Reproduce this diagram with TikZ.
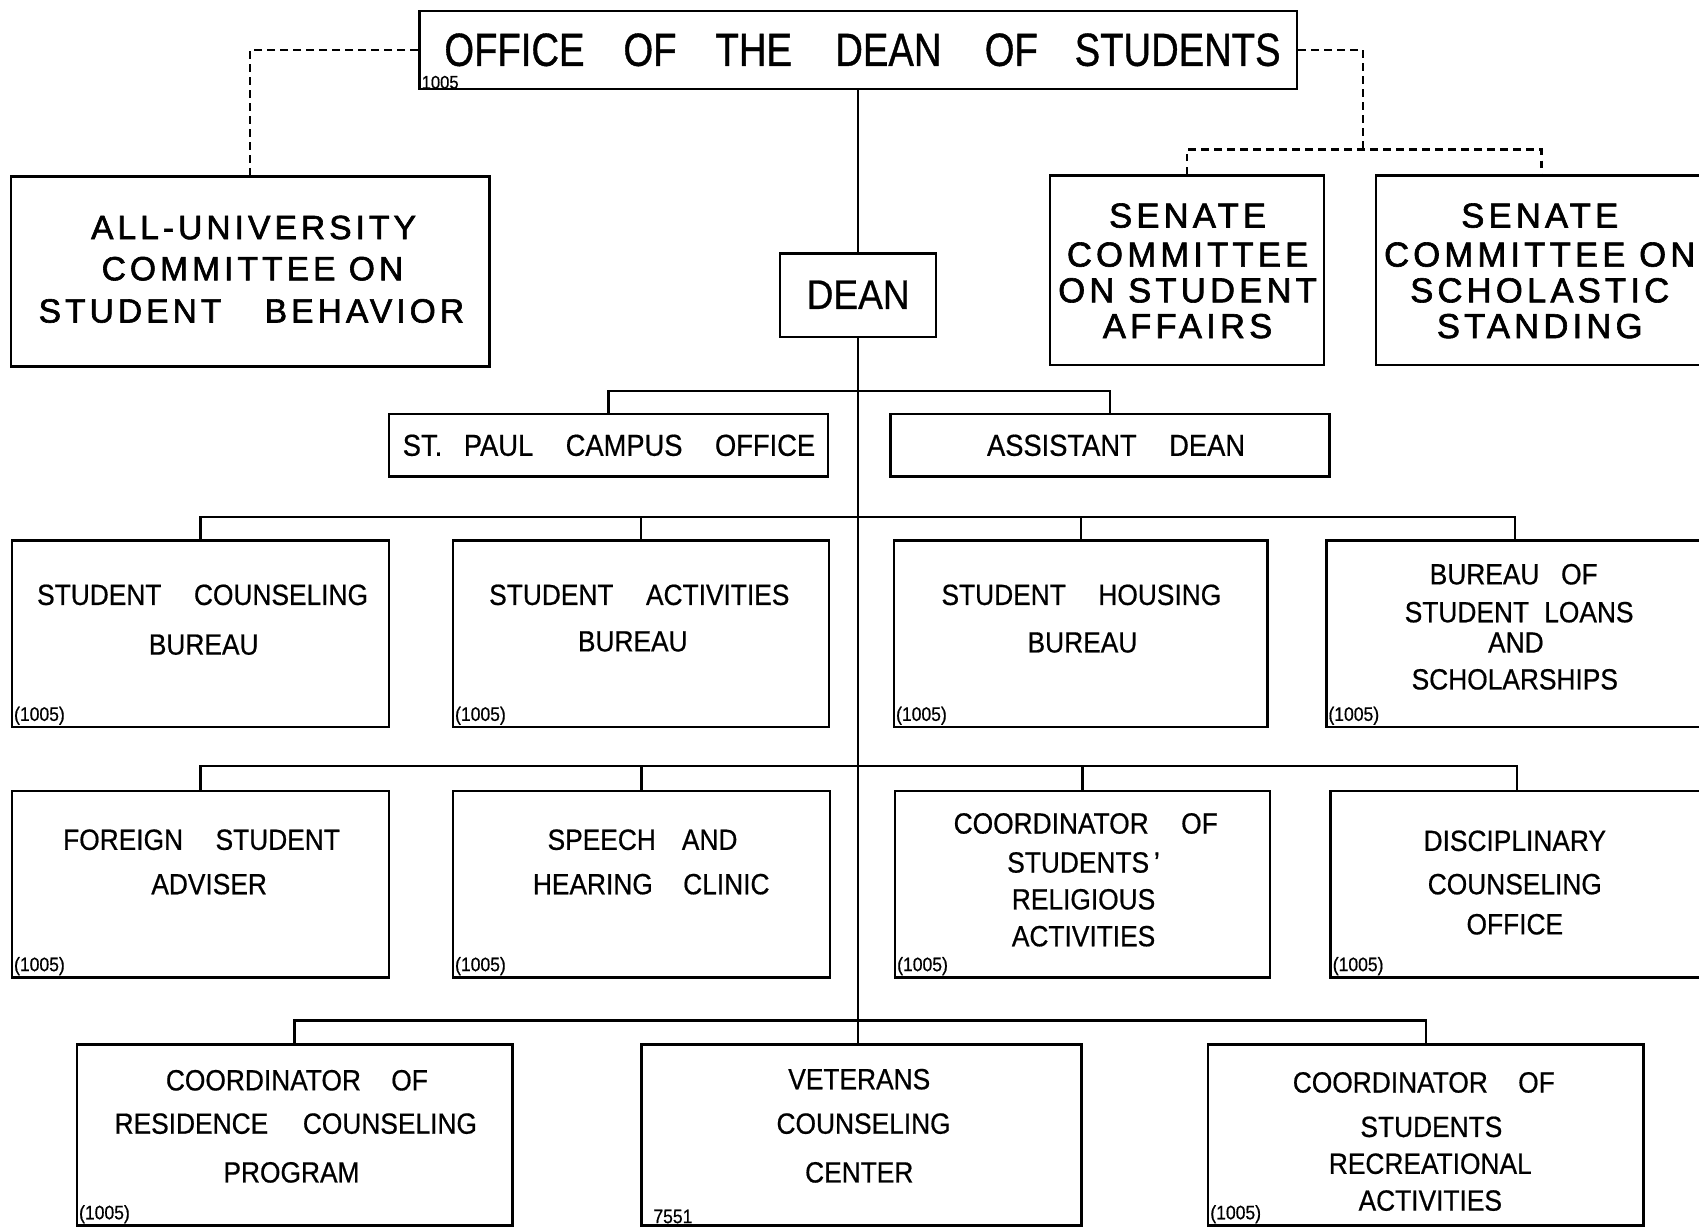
\documentclass[tikz,border=0pt]{standalone}
\usepackage{fontspec}
\setmainfont{Liberation Sans}[FakeStretch=0.9,FakeBold=0.6]
\newfontfamily\titlef{Liberation Sans}[FakeStretch=0.82,FakeBold=0.8]
\newfontfamily\comf{Liberation Sans}[FakeStretch=1.0,LetterSpace=12,FakeBold=1.8]
\usetikzlibrary{fit}
\begin{document}
\begin{tikzpicture}[x=1pt,y=-1pt,
  box/.style={draw,line width=2.4pt,inner sep=0pt},
  conn/.style={line width=2.4pt},
  dsh/.style={line width=2.2pt,dash pattern=on 7pt off 5pt},
  txt/.style={inner sep=0pt,font=\fontsize{27}{27}\selectfont},
  stxt/.style={inner sep=0pt,font=\fontsize{28}{28}\selectfont},
  ctxt/.style={inner sep=0pt,font=\comf\fontsize{31}{31}\selectfont},
  sntxt/.style={inner sep=0pt,font=\comf\fontsize{32}{32}\selectfont},
  code/.style={inner sep=0pt,anchor=south west,font=\fontsize{18}{18}\selectfont}]
\useasboundingbox (0,0) rectangle (1568,1134);
\clip (0,0) rectangle (1568,1134);
\fill[white] (0,0) rectangle (1568,1134);
% boxes
\node[box,fit={(387,10) (1197,82)}] (office) {};
\node[box,fit={(10,163) (452,338)}] (aucsb) {};
\node[box,fit={(969,162) (1222,337)}] (ssa) {};
\node[box,fit={(1270,162) (1575,337)}] (sss) {};
\node[box,fit={(720,234) (864,311)}] (dean) {};
\node[box,fit={(359,382) (764,440)}] (stp) {};
\node[box,fit={(822,382) (1227,440)}] (asd) {};
\node[box,fit={(11,499) (359,671)}] (scb) {};
\node[box,fit={(418,499) (765,671)}] (sab) {};
\node[box,fit={(825,499) (1170,671)}] (shb) {};
\node[box,fit={(1224,499) (1572,671)}] (bsl) {};
\node[box,fit={(11,730) (359,902)}] (fsa) {};
\node[box,fit={(418,730) (766,902)}] (shc) {};
\node[box,fit={(826,730) (1172,902)}] (csr) {};
\node[box,fit={(1228,730) (1572,902)}] (dco) {};
\node[box,fit={(71,964) (473,1131)}] (crc) {};
\node[box,fit={(592,964) (998,1131)}] (vcc) {};
\node[box,fit={(1115,964) (1517,1131)}] (crec) {};
% bar coordinates
\coordinate (r1) at (0,361);
\coordinate (r2) at (0,477);
\coordinate (r3) at (0,707);
\coordinate (r4) at (0,942);
\coordinate (dj) at (1258,138);
% connectors
\draw[conn] (office.south) -- (dean.north);
\draw[conn] (dean.south) -- (dean.south |- vcc.north);
\draw[conn] (stp.north) -- (stp.north |- r1) -- (asd.north |- r1) -- (asd.north);
\draw[conn] (scb.north) -- (scb.north |- r2) -- (bsl.north |- r2) -- (bsl.north);
\draw[conn] (sab.north) -- (sab.north |- r2);
\draw[conn] (shb.north) -- (shb.north |- r2);
\draw[conn] (fsa.north) -- (fsa.north |- r3) -- (dco.north |- r3) -- (dco.north);
\draw[conn] (shc.north) -- (shc.north |- r3);
\draw[conn] (csr.north) -- (csr.north |- r3);
\draw[conn] (crc.north) -- (crc.north |- r4) -- (crec.north |- r4) -- (crec.north);
\draw[dsh] (office.west) -| (aucsb.north);
\draw[dsh] (office.east) -| (dj);
\draw[dsh] (ssa.north) -- (ssa.north |- dj) -- (sss.north |- dj) -- (sss.north);
% texts
\node[inner sep=0pt,font=\titlef\fontsize{43}{43}\selectfont] (t0) at (796,46) {OFFICE\hspace{36pt}OF\hspace{36pt}THE\hspace{40pt}DEAN\hspace{40pt}OF\hspace{34pt}STUDENTS};
\node[inner sep=0pt,anchor=west,font=\fontsize{17}{17}\selectfont] (c0) at (389,76) {1005};
\node[ctxt] (t1a) at (234,210) {ALL-UNIVERSITY};
\node[ctxt] (t1b) at (233,248) {COMMITTEE ON};
\node[ctxt] (t1c) at (232,287) {STUDENT\hspace{40pt}BEHAVIOR};
\node[sntxt] (t2a) at (1096,199) {SENATE};
\node[sntxt] (t2b) at (1096,235) {COMMITTEE};
\node[sntxt] (t2c) at (1096,268) {ON STUDENT};
\node[sntxt] (t2d) at (1096,301) {AFFAIRS};
\node[sntxt] (t3a) at (1421,199) {SENATE};
\node[sntxt] (t3b) at (1421,235) {COMMITTEE ON};
\node[sntxt] (t3c) at (1421,268) {SCHOLASTIC};
\node[sntxt] (t3d) at (1421,301) {STANDING};
\node[inner sep=0pt,font=\fontsize{38}{38}\selectfont] (t4) at (792,272) {DEAN};
\node[stxt] (t5) at (562,411) {ST.\hspace{20pt}PAUL\hspace{30pt}CAMPUS\hspace{30pt}OFFICE};
\node[stxt] (t6) at (1030,411) {ASSISTANT\hspace{30pt}DEAN};
\node[txt] (t7a) at (187,549) {STUDENT\hspace{30pt}COUNSELING};
\node[txt] (t7b) at (188,595) {BUREAU};
\node[txt] (t8a) at (590,549) {STUDENT\hspace{30pt}ACTIVITIES};
\node[txt] (t8b) at (584,592) {BUREAU};
\node[txt] (t9a) at (998,549) {STUDENT\hspace{30pt}HOUSING};
\node[txt] (t9b) at (999,593) {BUREAU};
\node[txt] (t10a) at (1397,530) {BUREAU\hspace{20pt}OF};
\node[txt] (t10b) at (1402,565) {STUDENT\hspace{14pt}LOANS};
\node[txt] (t10c) at (1399,593) {AND};
\node[txt] (t10d) at (1398,627) {SCHOLARSHIPS};
\node[txt] (t11a) at (186,775) {FOREIGN\hspace{30pt}STUDENT};
\node[txt] (t11b) at (193,816) {ADVISER};
\node[txt] (t12a) at (593,775) {SPEECH\hspace{24pt}AND};
\node[txt] (t12b) at (601,816) {HEARING\hspace{28pt}CLINIC};
\node[txt] (t13a) at (1002,760) {COORDINATOR\hspace{30pt}OF};
\node[txt] (t13b) at (1000,796) {STUDENTS\,'};
\node[txt] (t13c) at (1000,830) {RELIGIOUS};
\node[txt] (t13d) at (1000,864) {ACTIVITIES};
\node[txt] (t14a) at (1398,776) {DISCIPLINARY};
\node[txt] (t14b) at (1398,816) {COUNSELING};
\node[txt] (t14c) at (1398,853) {OFFICE};
\node[txt] (t15a) at (274,997) {COORDINATOR\hspace{28pt}OF};
\node[txt] (t15b) at (273,1037) {RESIDENCE\hspace{32pt}COUNSELING};
\node[txt] (t15c) at (269,1082) {PROGRAM};
\node[txt] (t16a) at (793,996) {VETERANS};
\node[txt] (t16b) at (797,1037) {COUNSELING};
\node[txt] (t16c) at (793,1082) {CENTER};
\node[txt] (t17a) at (1314,999) {COORDINATOR\hspace{28pt}OF};
\node[txt] (t17b) at (1321,1040) {STUDENTS};
\node[txt] (t17c) at (1320,1074) {RECREATIONAL};
\node[txt] (t17d) at (1320,1108) {ACTIVITIES};
% codes
\node[code] (c1) at ([shift={(3,-3)}]scb.south west) {(1005)};
\node[code] (c2) at ([shift={(3,-3)}]sab.south west) {(1005)};
\node[code] (c3) at ([shift={(3,-3)}]shb.south west) {(1005)};
\node[code] (c4) at ([shift={(3,-3)}]bsl.south west) {(1005)};
\node[code] (c5) at ([shift={(3,-3)}]fsa.south west) {(1005)};
\node[code] (c6) at ([shift={(3,-3)}]shc.south west) {(1005)};
\node[code] (c7) at ([shift={(3,-3)}]csr.south west) {(1005)};
\node[code] (c8) at ([shift={(3,-3)}]dco.south west) {(1005)};
\node[code] (c9) at ([shift={(3,-3)}]crc.south west) {(1005)};
\node[code] (c10) at ([shift={(12,-3)}]vcc.south west) {7551};
\node[code] (c11) at ([shift={(3,-3)}]crec.south west) {(1005)};
\end{tikzpicture}
\end{document}
